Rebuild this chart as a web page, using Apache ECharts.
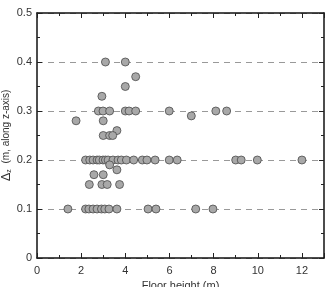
<!DOCTYPE html>
<html>
<head>
<meta charset="utf-8">
<script src="https://cdn.jsdelivr.net/npm/echarts@6/dist/echarts.min.js"></script>
<style>
  * { margin: 0; padding: 0; }
  body { background: #fff; }
</style>
</head>
<body>
<!-- container for the scatter -->
<div id="main" style="width: 329px;height: 287px;"></div>
<script>
  // floor height (m) and matching delta z (m)
  var floorHeight = [
    3.1, 4.0,
    4.47, 4.0, 2.94,
    2.78, 2.99, 3.29, 4.0, 4.17, 4.47, 5.99, 8.1, 8.59,
    6.99, 1.77, 3.0, 3.62,
    3.0, 3.29, 3.43,
    2.2, 2.39, 2.54, 2.72, 2.82, 2.99, 3.1, 3.22, 3.44, 3.67, 3.82, 4.05, 4.38, 4.77, 4.98, 5.35, 5.99, 6.35, 9.0, 9.25, 9.98, 12.0,
    3.29, 3.62,
    2.58, 3.0,
    2.37, 2.94, 3.18, 3.74,
    1.4, 2.2, 2.35, 2.54, 2.72, 2.92, 3.07, 3.26, 3.62, 5.03, 5.39, 7.19, 7.97
  ];
  var deltaZ = [
    0.4, 0.4,
    0.37, 0.35, 0.33,
    0.3, 0.3, 0.3, 0.3, 0.3, 0.3, 0.3, 0.3, 0.3,
    0.29, 0.28, 0.28, 0.26,
    0.25, 0.25, 0.25,
    0.2, 0.2, 0.2, 0.2, 0.2, 0.2, 0.2, 0.2, 0.2, 0.2, 0.2, 0.2, 0.2, 0.2, 0.2, 0.2, 0.2, 0.2, 0.2, 0.2, 0.2, 0.2,
    0.19, 0.18,
    0.17, 0.17,
    0.15, 0.15, 0.15, 0.15,
    0.1, 0.1, 0.1, 0.1, 0.1, 0.1, 0.1, 0.1, 0.1, 0.1, 0.1, 0.1, 0.1
  ];

  var points = floorHeight.map(function (x, i) { return [x, deltaZ[i]]; });

  var font = 'Liberation Sans';
  var tickLine = { color: '#222', width: 1 };

  function boxAxis(extra) {
    var ax = {
      axisLine: { show: true, onZero: false, lineStyle: { color: '#111', width: 1.5 } },
      axisTick: { show: true, inside: true, length: 5, lineStyle: tickLine },
      minorTick: { show: true, splitNumber: 2, length: 3, lineStyle: tickLine },
      axisLabel: { show: false },
      splitLine: { show: false }
    };
    for (var k in extra) ax[k] = extra[k];
    return ax;
  }

  var mycharts = echarts.init(document.getElementById('main'));
  var option = {
    animation: false,
    grid: { left: 37, right: 5, top: 13, bottom: 29, outerBoundsMode: 'none' },
    xAxis: [
      boxAxis({
        type: 'value', min: 0, max: 13, interval: 2, position: 'bottom',
        axisLabel: { show: true, color: '#333', fontSize: 11, fontFamily: font, margin: 7,
          showMaxLabel: false },
        name: 'Floor height (m)', nameLocation: 'middle', nameGap: 22, nameMoveOverlap: false,
        nameTextStyle: { color: '#333', fontSize: 11, fontFamily: font }
      }),
      boxAxis({ type: 'value', min: 0, max: 13, interval: 2, position: 'top' })
    ],
    yAxis: [
      boxAxis({
        type: 'value', min: 0, max: 0.5, interval: 0.1, position: 'left',
        axisLabel: { show: true, color: '#333', fontSize: 11, fontFamily: font, margin: 5 },
        splitLine: { show: true, lineStyle: { color: '#999', type: [6, 5], width: 1 } },
        name: '{d|Δ}{s|z}{a|  (m, along z-axis)}', nameLocation: 'middle', nameGap: 24,
        nameMoveOverlap: false,
        nameTextStyle: {
          rich: {
            d: { color: '#333', fontSize: 13, fontFamily: font },
            a: { color: '#333', fontSize: 10, fontFamily: font },
            s: { color: '#333', fontSize: 7, fontFamily: font, verticalAlign: 'bottom', padding: [6, 0, 0, 0] }
          }
        }
      }),
      boxAxis({ type: 'value', min: 0, max: 0.5, interval: 0.1, position: 'right' })
    ],
    series: [{
      type: 'scatter',
      data: points,
      symbolSize: 8,
      itemStyle: { color: '#a8a8a8', borderColor: '#4a4a4a', borderWidth: 0.8, opacity: 1 }
    }]
  };
  mycharts.setOption(option);
</script>
</body>
</html>
